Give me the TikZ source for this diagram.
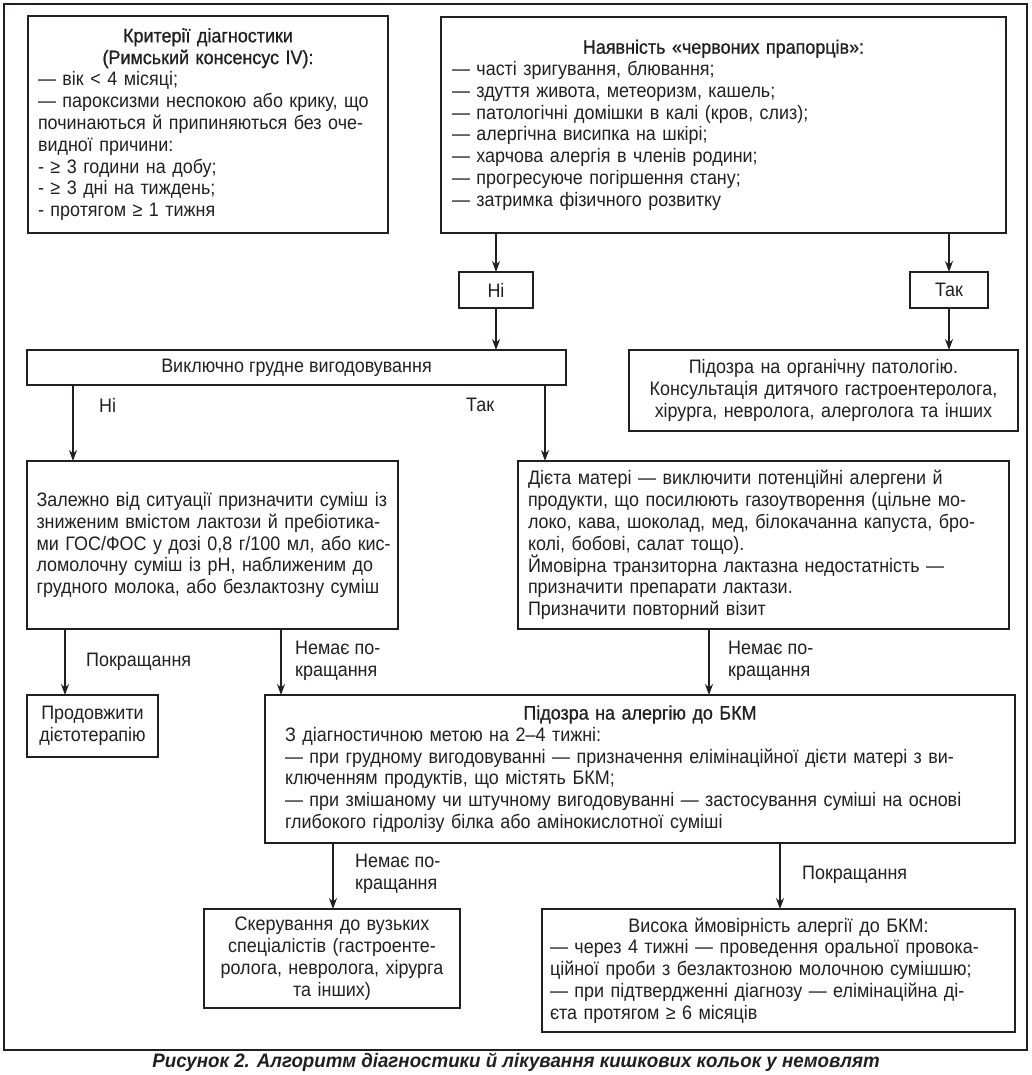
\documentclass[tikz,border=0pt]{standalone}
\usepackage{fontspec}
\setmainfont[FakeStretch=0.92]{Liberation Sans}
\newfontfamily\headfont[FakeStretch=0.92, FakeBold=0.8]{Liberation Sans}
\newfontfamily\capfont[FakeStretch=0.96]{Liberation Sans}
\usetikzlibrary{arrows.meta}
\definecolor{ink}{RGB}{35,31,32}
% full-width lines: stretched or centred
\newcommand\jline[1]{\makebox[\hsize][s]{#1}\\}
\newcommand\ctrline[1]{\makebox[\hsize]{#1}\\}
\begin{document}
\begin{tikzpicture}[x=1pt,y=-1pt,
    box/.style={draw=ink, line width=1.2pt, text=ink, align=left, anchor=north west,
      inner ysep=2pt, outer sep=0pt, font=\fontsize{19.5}{21.8}\selectfont},
    lbl/.style={text=ink, align=left, anchor=west, inner sep=0pt, font=\fontsize{19.5}{21.8}\selectfont},
    arr/.style={draw=ink, line width=1.1pt, -{Stealth[length=11pt,width=8pt]}}]
    \useasboundingbox (0,0) rectangle (1032,1075);
    \draw[ink, line width=1.2pt] (4,4) rectangle (1027,1050);

    % top row
    \node[box, inner xsep=10pt, text width=340pt, minimum height=217pt] (crit) at (28,16) {%
        \ctrline{\headfont Критерії діагностики}
        \ctrline{\headfont (Римський консенсус IV):}
        — вік < 4 місяці;\\
        \jline{— пароксизми неспокою або крику, що}
        \jline{починаються й припиняються без оче-}
        видної причини:\\
        - ≥ 3 години на добу;\\
        - ≥ 3 дні на тиждень;\\
        - протягом ≥ 1 тижня};
    \node[box, inner xsep=11pt, text width=543pt, minimum height=216pt] (flags) at (441,17) {%
        \ctrline{\headfont Наявність «червоних прапорців»:}
        — часті зригування, блювання;\\
        — здуття живота, метеоризм, кашель;\\
        — патологічні домішки в калі (кров, слиз);\\
        — алергічна висипка на шкірі;\\
        — харчова алергія в членів родини;\\
        — прогресуюче погіршення стану;\\
        — затримка фізичного розвитку};

    \node[box, align=center, minimum width=74pt, minimum height=36pt] (no) at (459,272) {Ні};
    \node[box, align=center, minimum width=78pt, minimum height=36pt] (yes) at (910,272) {Так};

    \node[box, align=center, minimum width=539pt, minimum height=35pt] (breast) at (27,350) {Виключно грудне вигодовування};
    \node[box, align=center, inner xsep=6pt, text width=377pt, minimum height=81pt] (organic) at (629,350) {%
        Підозра на органічну патологію.\\
        Консультація дитячого гастроентеролога,\\
        хірурга, невролога, алерголога та інших};

    % middle row
    \node[box, inner xsep=9.5pt, text width=352pt, minimum height=168pt] (mix) at (27,461) {%
        \jline{Залежно від ситуації призначити суміш із}
        \jline{зниженим вмістом лактози й пребіотика-}
        \jline{ми ГОС/ФОС у дозі 0,8 г/100 мл, або кис-}
        \jline{ломолочну суміш із pH, наближеним до}
        грудного молока, або безлактозну суміш};
    \node[box, inner xsep=10pt, text width=471pt, minimum height=168pt] (diet) at (518,461) {%
        \jline{Дієта матері — виключити потенційні алергени й}
        \jline{продукти, що посилюють газоутворення (цільне мо-}
        \jline{локо, кава, шоколад, мед, білокачанна капуста, бро-}
        колі, бобові, салат тощо).\\
        \jline{Ймовірна транзиторна лактазна недостатність —}
        призначити препарати лактази.\\
        Призначити повторний візит};

    \node[box, align=center, inner xsep=4pt, text width=123pt, minimum height=62pt] (cont) at (27,695) {%
        Продовжити\\ дієтотерапію};
    \node[box, inner xsep=20pt, text width=710pt, minimum height=148pt] (cma) at (265,695) {%
        \ctrline{\headfont Підозра на алергію до БКМ}
        З діагностичною метою на 2–4 тижні:\\
        \jline{— при грудному вигодовуванні — призначення елімінаційної дієти матері з ви-}
        ключенням продуктів, що містять БКМ;\\
        \jline{— при змішаному чи штучному вигодовуванні — застосування суміші на основі}
        глибокого гідролізу білка або амінокислотної суміші};

    % bottom row
    \node[box, align=center, inner xsep=6pt, text width=244pt, minimum height=99pt] (refer) at (204,909) {%
        Скерування до вузьких\\
        спеціалістів (гастроенте-\\
        ролога, невролога, хірурга\\
        та інших)};
    \node[box, inner xsep=8pt, text width=457pt, minimum height=123pt] (high) at (542,909) {%
        \ctrline{Висока ймовірність алергії до БКМ:}
        \jline{— через 4 тижні — проведення оральної провока-}
        \jline{ційної проби з безлактозною молочною сумішшю;}
        \jline{— при підтвердженні діагнозу — елімінаційна ді-}
        єта протягом ≥ 6 місяців};

    % arrow labels
    \node[lbl] (lno) at (99,405) {Ні};
    \node[lbl] (lyes) at (466,405) {Так};
    \node[lbl] (lbetter) at (86,662) {Покращання};
    \node[lbl] (lworse) at (295,661) {Немає по-\\кращання};
    \node[lbl] (lworse2) at (728,661) {Немає по-\\кращання};
    \node[lbl] (lworse3) at (355,874) {Немає по-\\кращання};
    \node[lbl] (lbetter2) at (802,875) {Покращання};

    \coordinate (xa) at (73,0);
    \coordinate (xb) at (545,0);
    \coordinate (xc) at (65,0);
    \coordinate (xd) at (281,0);
    \coordinate (xe) at (709,0);
    \coordinate (xf) at (333,0);
    \coordinate (xg) at (780,0);

    \draw[arr] (flags.south -| no.north) -- (no.north);
    \draw[arr] (no.south) -- (breast.north -| no.south);
    \draw[arr] (flags.south -| yes.north) -- (yes.north);
    \draw[arr] (yes.south) -- (organic.north -| yes.south);
    \draw[arr] (breast.south -| xa) -- (mix.north -| xa);
    \draw[arr] (breast.south -| xb) -- (diet.north -| xb);
    \draw[arr] (mix.south -| xc) -- (cont.north -| xc);
    \draw[arr] (mix.south -| xd) -- (cma.north -| xd);
    \draw[arr] (diet.south -| xe) -- (cma.north -| xe);
    \draw[arr] (cma.south -| xf) -- (refer.north -| xf);
    \draw[arr] (cma.south -| xg) -- (high.north -| xg);

    \node[text=ink, font=\capfont\fontsize{19.5}{21}\selectfont\bfseries\itshape] (caption) at (516,1062)
        {Рисунок 2. Алгоритм діагностики й лікування кишкових кольок у немовлят};
\end{tikzpicture}
\end{document}
